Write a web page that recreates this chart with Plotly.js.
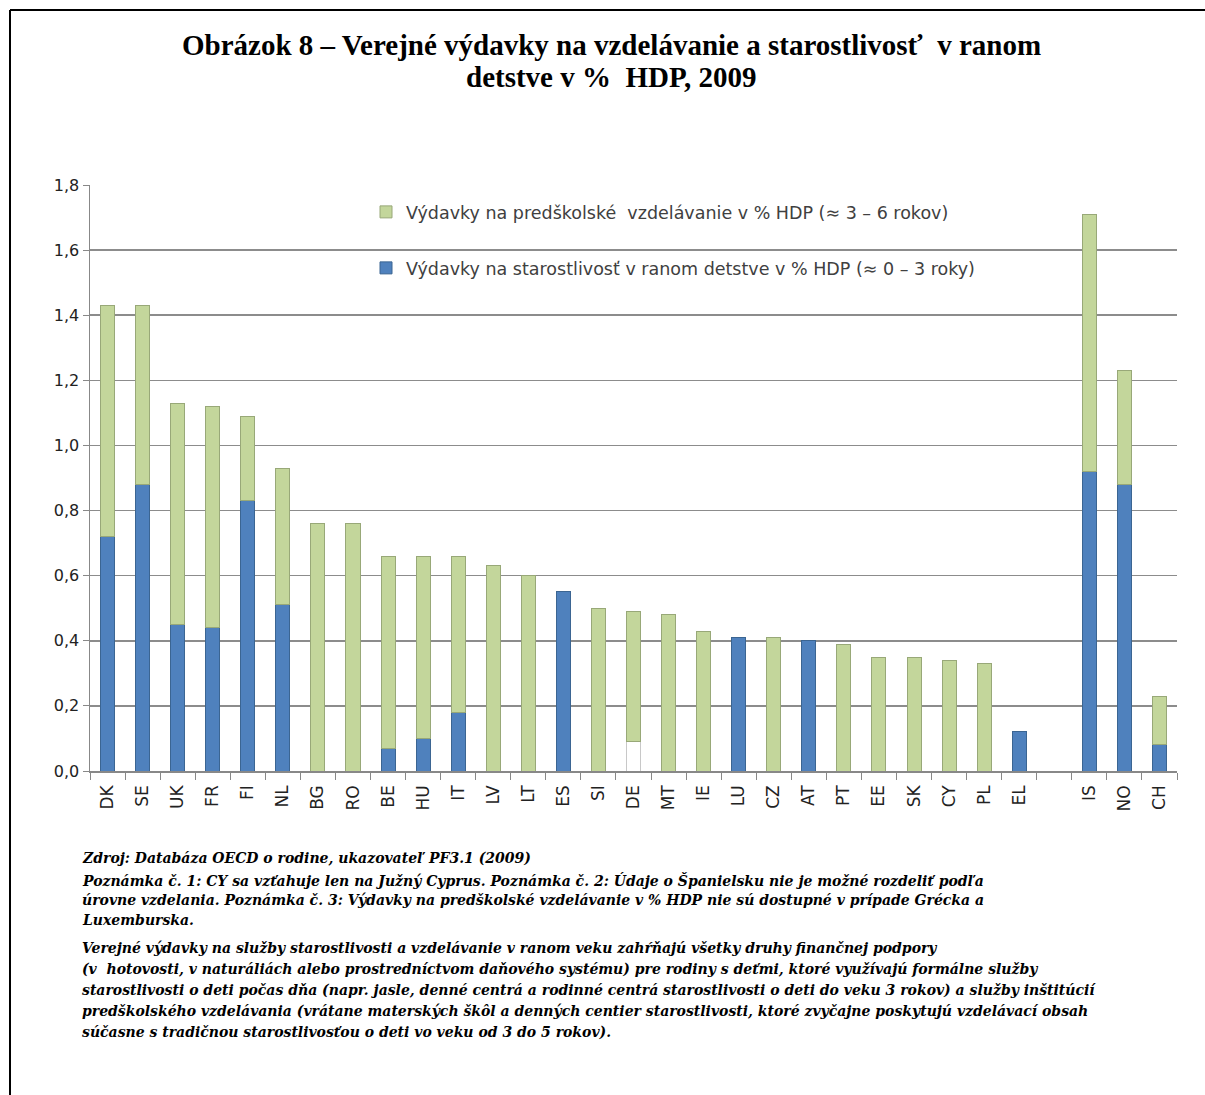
<!DOCTYPE html>
<html>
<head>
<meta charset="utf-8">
<script src="https://cdn.plot.ly/plotly-3.0.1.min.js"></script>
<style>
html,body{margin:0;padding:0;background:#fff;}
#chart{width:1205px;height:1095px;}
</style>
</head>
<body>
<div id="chart"></div>
<script>
// ---- Data ----
const categories = ['DK','SE','UK','FR','FI','NL','BG','RO','BE','HU','IT','LV','LT','ES','SI','DE','MT','IE','LU','CZ','AT','PT','EE','SK','CY','PL','EL',' ','IS','NO','CH'];
// Early childhood care, % GDP (~0-3 years)
const care0to3 = [0.72,0.88,0.45,0.44,0.83,0.51,null,null,0.07,0.10,0.18,null,null,0.55,null,null,null,null,0.41,null,0.40,null,null,null,null,null,0.12,null,0.92,0.88,0.08];
// Unsplit part shown in white (DE)
const unsplitDE = [null,null,null,null,null,null,null,null,null,null,null,null,null,null,null,0.09,null,null,null,null,null,null,null,null,null,null,null,null,null,null,null];
// Pre-school education, % GDP (~3-6 years)
const preschool3to6 = [0.71,0.55,0.68,0.68,0.26,0.42,0.76,0.76,0.59,0.56,0.48,0.63,0.60,null,0.50,0.40,0.48,0.43,null,0.41,null,0.39,0.35,0.35,0.34,0.33,null,null,0.79,0.35,0.15];

const yTicks = [0,0.2,0.4,0.6,0.8,1.0,1.2,1.4,1.6,1.8];

const titleLines = ['Obrázok 8 – Verejné výdavky na vzdelávanie a starostlivosť  v ranom','detstve v %  HDP, 2009'];
const legendPre = 'Výdavky na predškolské  vzdelávanie v % HDP (≈ 3 – 6 rokov)';
const legendCare = 'Výdavky na starostlivosť v ranom detstve v % HDP (≈ 0 – 3 roky)';

const noteLines = [
 'Zdroj: Databáza OECD o rodine, ukazovateľ PF3.1 (2009)',
 'Poznámka č. 1: CY sa vzťahuje len na Južný Cyprus. Poznámka č. 2: Údaje o Španielsku nie je možné rozdeliť podľa',
 'úrovne vzdelania. Poznámka č. 3: Výdavky na predškolské vzdelávanie v % HDP nie sú dostupné v prípade Grécka a',
 'Luxemburska.',
 'Verejné výdavky na služby starostlivosti a vzdelávanie v ranom veku zahŕňajú všetky druhy finančnej podpory',
 '(v  hotovosti, v naturáliách alebo prostredníctvom daňového systému) pre rodiny s deťmi, ktoré využívajú formálne služby',
 'starostlivosti o deti počas dňa (napr. jasle, denné centrá a rodinné centrá starostlivosti o deti do veku 3 rokov) a služby inštitúcií',
 'predškolského vzdelávania (vrátane materských škôl a denných centier starostlivosti, ktoré zvyčajne poskytujú vzdelávací obsah',
 'súčasne s tradičnou starostlivosťou o deti vo veku od 3 do 5 rokov).'
];

// ---- Layout geometry ----
const W = 1205, H = 1095;
const L = 90, R = 1177, T = 185, B = 771;
const px2x = p => (p - L) / (R - L);
const py2y = p => (B - p) / (B - T);

const BLUE = '#4F81BD', GREEN = '#C3D69B';

const traces = [
 {type:'bar', x:categories, y:care0to3, name:legendCare, legend:'legend2',
  marker:{color:BLUE, line:{color:'#3B6592', width:1}}},
 {type:'bar', x:categories, y:unsplitDE, name:'DE', showlegend:false,
  marker:{color:'#FFFFFF', line:{color:'#C8C8C8', width:1}}},
 {type:'bar', x:categories, y:preschool3to6, name:legendPre, legend:'legend',
  marker:{color:GREEN, line:{color:'#98A878', width:1}}}
];

const noteY = [858, 880, 900, 920, 948, 969, 990, 1011, 1032];
const annotations = noteLines.map((t,i)=>({
  text:t, xref:'paper', yref:'paper', x:px2x(80), y:py2y(noteY[i]),
  xanchor:'left', yanchor:'middle', showarrow:false,
  font:{family:'DejaVu Serif', size:14, color:'#000', style:'italic', weight:'bold'}
}));
const titleY = [45, 77];
titleLines.forEach((t,i)=>annotations.push({
  text:'<b>'+t+'</b>',
  xref:'paper', yref:'paper', x:px2x(611), y:py2y(titleY[i]), xanchor:'center', yanchor:'middle',
  showarrow:false, align:'center',
  font:{family:'Liberation Serif', size:29, color:'#000'}
}));

const layout = {
  width:W, height:H,
  margin:{l:L, r:W-R, t:T, b:H-B, pad:0},
  paper_bgcolor:'#fff', plot_bgcolor:'#fff',
  barmode:'stack', bargap:0.6,
  showlegend:true,
  separators:',.',
  xaxis:{type:'category', categoryorder:'array', categoryarray:categories,
    tickson:'boundaries', ticks:'outside', ticklen:7, tickcolor:'#888',
    ticklabelstandoff:6,
    tickangle:-90, tickfont:{family:'DejaVu Sans', size:17, color:'#222'},
    showline:true, linecolor:'#888', linewidth:1.5, showgrid:false, fixedrange:true},
  yaxis:{range:[0,1.8], tickvals:yTicks, tickformat:'.1f', ticks:'outside', ticklen:6,
    tickcolor:'#888', tickfont:{family:'DejaVu Sans', size:16, color:'#222'},
    showline:true, linecolor:'#888', linewidth:1.5,
    showgrid:true, gridcolor:'#8c8c8c', gridwidth:1.5, zeroline:false, fixedrange:true},
  legend:{x:px2x(366), y:py2y(212), xanchor:'left', yanchor:'middle',
    bgcolor:'rgba(0,0,0,0)', font:{family:'DejaVu Sans', size:17.5, color:'#404040'}},
  legend2:{x:px2x(366), y:py2y(268), xanchor:'left', yanchor:'middle',
    bgcolor:'rgba(0,0,0,0)', font:{family:'DejaVu Sans', size:17.5, color:'#404040'}},
  annotations:annotations,
  shapes:[
    {type:'line', xref:'paper', yref:'paper', x0:px2x(10), x1:px2x(1205), y0:py2y(10), y1:py2y(10), line:{color:'#000', width:2}},
    {type:'line', xref:'paper', yref:'paper', x0:px2x(10), x1:px2x(10), y0:py2y(10), y1:py2y(1095), line:{color:'#000', width:2}}
  ]
};

Plotly.newPlot('chart', traces, layout, {displayModeBar:false, staticPlot:true});
</script>
</body>
</html>
